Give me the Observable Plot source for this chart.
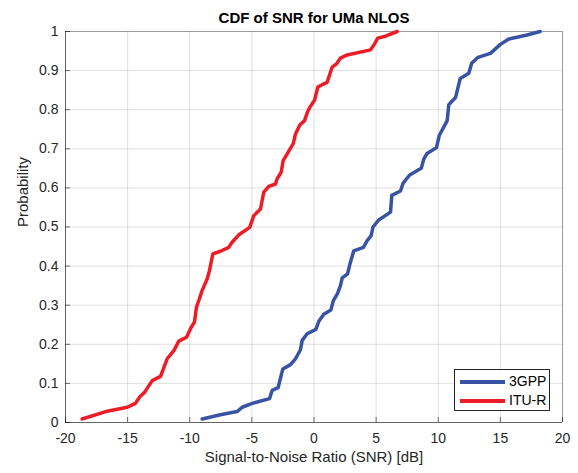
<!DOCTYPE html>
<html>
<head>
<meta charset="utf-8">
<script src="https://cdn.jsdelivr.net/npm/d3@7"></script>
<script src="https://cdn.jsdelivr.net/npm/@observablehq/plot@0.6"></script>
<style>
  html, body { margin: 0; padding: 0; background: #fff; }
  body { width: 578px; height: 473px; position: relative; overflow: hidden; font-family: "Liberation Sans", Arial, sans-serif; }
  #title { position: absolute; left: 50px; right: 0; top: 10px; line-height: 16px; font-size: 15px; font-weight: bold; color: #000; text-align: center; }
  #chart { position: absolute; left: 0; top: 14px; }
  #legend { position: absolute; left: 454px; top: 369px; width: 96px; height: 42px; box-sizing: border-box; border: 1px solid #262626; background: #fff; font-size: 14px; color: #000; }
  .row { position: absolute; left: 0; height: 18px; width: 100%; }
  .swatch { position: absolute; left: 5px; top: 8px; width: 45px; height: 3.5px; }
  .lab { position: absolute; left: 54px; top: 1px; line-height: 16px; }
</style>
</head>
<body>
<div id="title">CDF of SNR for UMa NLOS</div>
<div id="chart"></div>
<div id="legend"></div>
<script>
// 3GPP SNR values (dB) and cumulative probability
const snr3gpp = [-9.0, -7.53, -6.19, -5.78, -4.97, -3.58, -3.37, -2.89, -2.51, -1.89, -1.49, -1.09, -0.95, -0.55, 0.15, 0.39, 0.79, 1.36, 1.55, 1.90, 2.13, 2.27, 2.70, 2.88, 3.20, 3.98, 4.28, 4.60, 4.75, 5.21, 6.16, 6.26, 6.96, 7.17, 7.70, 8.63, 8.84, 9.10, 9.86, 10.08, 10.72, 10.85, 11.39, 11.77, 12.46, 12.69, 13.2, 14.2, 15.0, 15.68, 17.15, 18.2];
const prob3gpp = [0.009, 0.020, 0.028, 0.039, 0.049, 0.061, 0.082, 0.089, 0.137, 0.148, 0.163, 0.186, 0.21, 0.227, 0.238, 0.259, 0.277, 0.288, 0.311, 0.330, 0.350, 0.370, 0.380, 0.404, 0.439, 0.448, 0.465, 0.478, 0.500, 0.518, 0.538, 0.581, 0.592, 0.612, 0.633, 0.650, 0.674, 0.688, 0.703, 0.734, 0.772, 0.813, 0.831, 0.880, 0.893, 0.919, 0.934, 0.944, 0.967, 0.981, 0.991, 1.0];

// ITU-R SNR values (dB) and cumulative probability
const snrItu = [-18.66, -16.64, -15.03, -14.37, -14.02, -13.64, -13.02, -12.35, -11.82, -11.28, -10.88, -10.26, -9.94, -9.62, -9.46, -9.27, -9.0, -8.6, -8.41, -8.14, -7.53, -6.86, -6.59, -6.05, -5.17, -4.85, -4.31, -4.04, -3.64, -3.10, -2.97, -2.64, -2.48, -2.16, -1.67, -1.49, -1.14, -0.76, -0.55, -0.34, 0.04, 0.31, 0.66, 1.06, 1.46, 1.81, 2.13, 2.67, 4.55, 4.87, 5.13, 5.75, 6.70];
const probItu = [0.009, 0.029, 0.039, 0.049, 0.066, 0.077, 0.107, 0.118, 0.163, 0.184, 0.208, 0.218, 0.240, 0.257, 0.295, 0.312, 0.338, 0.367, 0.389, 0.431, 0.438, 0.448, 0.461, 0.480, 0.499, 0.529, 0.546, 0.589, 0.604, 0.610, 0.623, 0.640, 0.670, 0.687, 0.713, 0.738, 0.761, 0.772, 0.792, 0.806, 0.824, 0.858, 0.864, 0.870, 0.909, 0.917, 0.932, 0.940, 0.953, 0.968, 0.983, 0.988, 1.0];

const seriesNames = ["3GPP", "ITU-R"];
const seriesColors = ["#3953a4", "#ee1d25"];
const xTicks = [-20, -15, -10, -5, 0, 5, 10, 15, 20];
const yTicks = [0, 0.1, 0.2, 0.3, 0.4, 0.5, 0.6, 0.7, 0.8, 0.9, 1];
const xLabel = "Signal-to-Noise Ratio (SNR) [dB]";
const yLabel = "Probability";

const data = [
  ...snr3gpp.map((s, i) => ({series: seriesNames[0], snr: s, p: prob3gpp[i]})),
  ...snrItu.map((s, i) => ({series: seriesNames[1], snr: s, p: probItu[i]}))
];

const axisColor = "#262626";
const chart = Plot.plot({
  width: 578,
  height: 459,
  marginLeft: 65,
  marginRight: 16,
  marginTop: 17,
  marginBottom: 51,
  style: {fontFamily: "'Liberation Sans', Arial, sans-serif", fontSize: "14px", color: axisColor, background: "transparent"},
  x: {domain: [-20, 20]},
  y: {domain: [0, 1]},
  color: {domain: seriesNames, range: seriesColors},
  marks: [
    Plot.gridX(xTicks, {stroke: "#000", strokeOpacity: 0.12}),
    Plot.gridY(yTicks, {stroke: "#000", strokeOpacity: 0.12}),
    Plot.ruleX([20], {stroke: "#000", strokeOpacity: 0.3}),
    Plot.ruleY([1], {stroke: "#000", strokeOpacity: 0.3}),
    Plot.ruleX([-20], {stroke: "#000", strokeOpacity: 0.55}),
    Plot.ruleY([0], {stroke: "#000", strokeOpacity: 0.55}),
    Plot.axisX(xTicks, {tickSize: -5, tickPadding: 16, tickFormat: d => String(d), label: null, stroke: "#000", strokeOpacity: 0.55, fontSize: 14, fill: axisColor}),
    Plot.axisY(yTicks, {tickSize: -5, tickPadding: 12, tickFormat: d => String(d), label: null, stroke: "#000", strokeOpacity: 0.55, fontSize: 14, fill: axisColor}),
    Plot.line(data, {x: "snr", y: "p", z: "series", stroke: "series", strokeWidth: 3.5, strokeLinejoin: "round", strokeLinecap: "round"}),
    Plot.text([xLabel], {frameAnchor: "bottom", dy: 39, text: d => d, fontSize: 15, fill: axisColor}),
    Plot.text([yLabel], {frameAnchor: "left", dx: -42, rotate: -90, text: d => d, fontSize: 15, fill: axisColor})
  ]
});
document.getElementById("chart").appendChild(chart);

const legend = document.getElementById("legend");
seriesNames.forEach((name, i) => {
  const row = document.createElement("div");
  row.className = "row";
  row.style.top = (2 + i * 19) + "px";
  const sw = document.createElement("div");
  sw.className = "swatch";
  sw.style.background = seriesColors[i];
  const lab = document.createElement("div");
  lab.className = "lab";
  lab.textContent = name;
  row.appendChild(sw);
  row.appendChild(lab);
  legend.appendChild(row);
});
</script>
</body>
</html>
